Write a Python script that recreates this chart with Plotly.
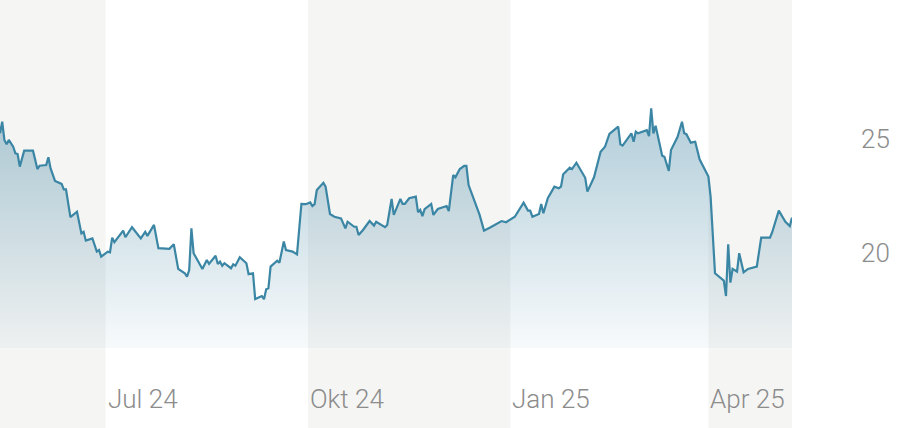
import plotly.graph_objects as go

# ---- data (dates and closing values) ----
dates = [
    "2024-05-14", "2024-05-15", "2024-05-16", "2024-05-17", "2024-05-18", "2024-05-20",
    "2024-05-21", "2024-05-22", "2024-05-23", "2024-05-25", "2024-05-29", "2024-05-31",
    "2024-06-01", "2024-06-04", "2024-06-05", "2024-06-06", "2024-06-08", "2024-06-11",
    "2024-06-12", "2024-06-13", "2024-06-15", "2024-06-18", "2024-06-20", "2024-06-21",
    "2024-06-22", "2024-06-25", "2024-06-27", "2024-06-28", "2024-06-29", "2024-07-02",
    "2024-07-03", "2024-07-04", "2024-07-05", "2024-07-09", "2024-07-10", "2024-07-13",
    "2024-07-17", "2024-07-19", "2024-07-20", "2024-07-23", "2024-07-25", "2024-07-30",
    "2024-08-01", "2024-08-03", "2024-08-06", "2024-08-07", "2024-08-08", "2024-08-09",
    "2024-08-10", "2024-08-14", "2024-08-16", "2024-08-17", "2024-08-20", "2024-08-21",
    "2024-08-22", "2024-08-23", "2024-08-24", "2024-08-27", "2024-08-28", "2024-08-29",
    "2024-08-31", "2024-09-03", "2024-09-04", "2024-09-06", "2024-09-07", "2024-09-10",
    "2024-09-11", "2024-09-12", "2024-09-13", "2024-09-14", "2024-09-17", "2024-09-18",
    "2024-09-20", "2024-09-21", "2024-09-24", "2024-09-26", "2024-09-28", "2024-09-30",
    "2024-10-02", "2024-10-03", "2024-10-04", "2024-10-05", "2024-10-08", "2024-10-09",
    "2024-10-11", "2024-10-13", "2024-10-16", "2024-10-18", "2024-10-19", "2024-10-22",
    "2024-10-23", "2024-10-24", "2024-10-26", "2024-10-29", "2024-10-31", "2024-11-01",
    "2024-11-05", "2024-11-06", "2024-11-08", "2024-11-09", "2024-11-12", "2024-11-13",
    "2024-11-14", "2024-11-16", "2024-11-19", "2024-11-20", "2024-11-21", "2024-11-22",
    "2024-11-23", "2024-11-26", "2024-11-27", "2024-11-29", "2024-12-03", "2024-12-04",
    "2024-12-06", "2024-12-07", "2024-12-09", "2024-12-11", "2024-12-12", "2024-12-13",
    "2024-12-18", "2024-12-20", "2024-12-23", "2024-12-28", "2024-12-30", "2025-01-03",
    "2025-01-07", "2025-01-09", "2025-01-10", "2025-01-11", "2025-01-14", "2025-01-15",
    "2025-01-16", "2025-01-18", "2025-01-21", "2025-01-23", "2025-01-24", "2025-01-25",
    "2025-01-28", "2025-01-29", "2025-01-31", "2025-02-04", "2025-02-05", "2025-02-07",
    "2025-02-08", "2025-02-11", "2025-02-13", "2025-02-15", "2025-02-19", "2025-02-20",
    "2025-02-21", "2025-02-25", "2025-02-26", "2025-02-27", "2025-02-28", "2025-03-04",
    "2025-03-05", "2025-03-06", "2025-03-07", "2025-03-08", "2025-03-11", "2025-03-12",
    "2025-03-14", "2025-03-15", "2025-03-18", "2025-03-20", "2025-03-21", "2025-03-22",
    "2025-03-24", "2025-03-26", "2025-03-28", "2025-04-01", "2025-04-02", "2025-04-04",
    "2025-04-08", "2025-04-09", "2025-04-10", "2025-04-11", "2025-04-12", "2025-04-14",
    "2025-04-15", "2025-04-17", "2025-04-19", "2025-04-23", "2025-04-24", "2025-04-25",
    "2025-04-29", "2025-04-30", "2025-05-03", "2025-05-06", "2025-05-08", "2025-05-09",
]
values = [
    25.25, 25.76, 24.96, 24.77, 24.96, 24.66,
    24.37, 24.34, 23.79, 24.49, 24.49, 23.68,
    23.83, 23.86, 24.20, 23.71, 23.16, 23.03,
    22.79, 22.79, 21.57, 21.81, 20.86, 20.93,
    20.54, 20.64, 20.06, 20.13, 19.84, 20.06,
    20.03, 20.67, 20.47, 20.98, 20.69, 21.13,
    20.64, 20.93, 20.75, 21.23, 20.21, 20.18,
    20.38, 19.30, 19.11, 18.96, 19.25, 21.08,
    19.99, 19.30, 19.69, 19.52, 19.88, 19.52,
    19.62, 19.44, 19.55, 19.33, 19.50, 19.44,
    19.81, 19.55, 19.07, 19.11, 17.98, 18.11,
    17.97, 18.41, 18.45, 19.40, 19.66, 19.57,
    20.50, 20.13, 20.06, 19.94, 22.15, 22.14,
    22.22, 22.06, 22.14, 22.76, 23.08, 22.91,
    21.71, 21.59, 21.52, 21.08, 21.37, 21.15,
    21.15, 20.79, 21.01, 21.40, 21.20, 21.37,
    21.13, 21.23, 22.37, 21.67, 22.37, 22.15,
    22.15, 22.40, 22.47, 21.79, 21.89, 21.62,
    21.92, 22.15, 21.67, 21.93, 22.06, 21.84,
    23.42, 23.32, 23.68, 23.82, 23.82, 22.98,
    21.67, 20.98, 21.13, 21.40, 21.35, 21.59,
    22.21, 21.86, 21.86, 21.59, 21.71, 22.15,
    21.74, 22.40, 22.91, 22.84, 22.91, 23.45,
    23.74, 23.68, 23.96, 23.30, 22.69, 23.16,
    23.32, 24.44, 24.66, 25.22, 25.54, 24.77,
    24.71, 25.25, 24.88, 25.32, 25.25, 25.39,
    25.13, 26.35, 25.25, 25.58, 24.27, 24.22,
    23.60, 24.52, 25.10, 25.76, 25.25, 25.21,
    24.84, 24.88, 24.11, 23.35, 22.47, 19.11,
    18.79, 18.11, 20.38, 18.70, 19.30, 19.18,
    19.99, 19.15, 19.30, 19.40, 20.09, 20.67,
    20.67, 20.91, 21.86, 21.37, 21.18, 21.55,
]

# quarter labels (German) and shaded quarter bands
quarter_starts = ["2024-07-01", "2024-10-01", "2025-01-01", "2025-04-01"]
quarter_labels = ["Jul 24", "Okt 24", "Jan 25", "Apr 25"]
shaded_bands = [("2024-05-14", "2024-07-01"), ("2024-10-01", "2025-01-01"), ("2025-04-01", "2025-05-09")]

y_ticks = [20, 25]
y_range = [15.83, 31.1]
x_range = ["2024-05-14", "2025-05-09"]

LINE = "#3a86a4"
TEXT = "#8c8c8c"
BAND = "#f5f5f4"
FONT = "Roboto"

fig = go.Figure()
fig.add_trace(go.Scatter(
    x=dates, y=values, mode="lines",
    line=dict(color=LINE, width=2.2),
    fill="tozeroy",
    fillgradient=dict(
        type="vertical",
        start=y_range[0], stop=max(values),
        colorscale=[[0, "rgba(60,130,160,0.04)"], [1, "rgba(60,130,160,0.40)"]],
    ),
    hoverinfo="skip",
))

shapes = []
for a, b in shaded_bands:
    shapes.append(dict(type="rect", xref="x", yref="paper", x0=a, x1=b,
                       y0=-0.23, y1=1.0, fillcolor=BAND, line=dict(width=0),
                       layer="below"))

annotations = []
for d, lab in zip(quarter_starts, quarter_labels):
    annotations.append(dict(x=d, y=0, xref="x", yref="paper", text=lab,
                            showarrow=False, xanchor="left", yanchor="middle",
                            xshift=0, yshift=-51,
                            font=dict(family=FONT, size=26, color=TEXT, weight=300)))

fig.update_layout(
    width=902, height=428,
    margin=dict(l=0, r=110, t=0, b=80),
    paper_bgcolor="white", plot_bgcolor="white",
    showlegend=False,
    shapes=shapes, annotations=annotations,
    xaxis=dict(range=x_range, showgrid=False, zeroline=False, showline=False,
               showticklabels=False, ticks=""),
    yaxis=dict(range=y_range, side="right", tickvals=y_ticks,
               showgrid=False, zeroline=False, showline=False, ticks="",
               ticklabelstandoff=68,
               tickfont=dict(family=FONT, size=26, color=TEXT, weight=300)),
)

fig.write_html("out.html", config={"displayModeBar": False},
               post_script="document.body.style.margin='0px';document.body.style.padding='0px';")
